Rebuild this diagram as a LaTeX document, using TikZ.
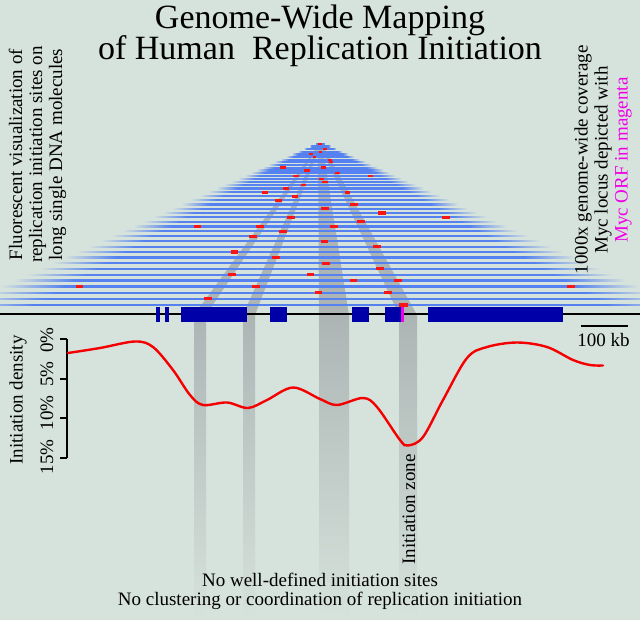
\documentclass[tikz,border=0pt]{standalone}
\usepackage{fontspec}
\setmainfont{Liberation Serif}
\definecolor{bgc}{RGB}{214,226,220}
\definecolor{mol}{RGB}{85,130,240}
\definecolor{bandgray}{RGB}{172,181,180}
\definecolor{blockblue}{RGB}{0,0,168}
\definecolor{mag}{RGB}{240,0,230}
\definecolor{markred}{RGB}{250,20,20}
\definecolor{curvered}{RGB}{245,0,0}
\pgfdeclarehorizontalshading{molfade}{100bp}{color(0bp)=(bgc); color(25bp)=(bgc); color(30bp)=(mol); color(70bp)=(mol); color(75bp)=(bgc); color(100bp)=(bgc)}
\tikzset{
  lbl/.style={font=\fontsize{19}{20}\selectfont, inner sep=0pt},
  ttl/.style={font=\fontsize{34}{27}\selectfont, inner sep=0pt, anchor=base},
  band/.style={fill=bandgray},
  lowband/.style={top color=bandgray, bottom color=bgc},
  blockstyle/.style={fill=blockblue},
  axisline/.style={line width=2pt, black},
}
\begin{document}
\begin{tikzpicture}[x=1pt, y=-1pt]
\useasboundingbox (0,0) rectangle (640,620);
\fill[bgc] (0,0) rectangle (640,620);
\begin{scope}
\clip (0,0) rectangle (640,620);
% grey bands above the axis
\fill[band] (319,144) -- (321,144) -- (206,315) -- (194,315) -- cycle;
\fill[band] (319,144) -- (321,144) -- (255,315) -- (243,315) -- cycle;
\fill[band] (318,144) -- (322,144) -- (349,315) -- (319,315) -- cycle;
\fill[band] (319,144) -- (322,144) -- (417,315) -- (399,315) -- cycle;
% grey bands below the axis
\shade[lowband] (194,315) rectangle (206,620);
\shade[lowband] (243,315) rectangle (255,620);
\shade[lowband] (319,315) rectangle (349,620);
\shade[lowband] (399,315) rectangle (417,620);
% DNA molecules
\foreach \yy in {143.9,146.5,149.1,151.8,154.5,157.1,159.7,162.4,165.1,167.8,170.5,173.2,175.9,178.9,181.9,185.2,188.6,192.3,196.3,200.4,204.5,208.7,213.0,217.3,221.8,226.5,231.4,236.3,241.4,246.7,252.1,257.6,263.2,268.9,274.7,280.6,286.6,292.7,298.8,305.0}{
  \pgfmathsetmacro\hw{2.2*(\yy-143)+3}
  \shade[shading=molfade] ({320-\hw},{\yy-0.6}) rectangle ({320+\hw},{\yy+0.6});
}
% initiation sites
\foreach \mx/\my in {320/143.9,325/149.1,320.3/151.8,310.7/154.5,314.6/157.1,329.8/159.7,331/162.4}{
  \fill[markred] ({\mx-1.8},{\my-1}) rectangle ({\mx+1.8},{\my+1});
}
\foreach \mx/\my in {282.7/167.8,323.5/167.8,307.2/170.5,337.5/173.2,295.7/175.9,370.3/175.9,321.6/178.9,325.2/181.9,303.6/185.2,286/188.6,264.7/192.3,347.5/192.3,295/196.3}{
  \fill[markred] ({\mx-2.8},{\my-1.3}) rectangle ({\mx+2.8},{\my+1.3});
}
\foreach \mx/\my in {278.3/200.4,354/204.5,325.2/208.7,382/213.0,291/217.3,445.7/217.3,360.7/221.8,197.3/226.5,260/226.5,334/226.5,282.7/231.4,252.7/236.3,324.3/241.4,377/246.7,234.3/252.1,276/257.6,326.2/263.2,379.7/268.9,231.7/274.7,310.5/274.7,353.3/280.6,397.7/280.6,79.3/286.6,256/286.6,571/286.6,318.5/292.7,387.7/292.7,207.7/298.8}{
  \fill[markred] ({\mx-3.8},{\my-1.6}) rectangle ({\mx+3.8},{\my+1.6});
}
\fill[markred] (399.3,303.4) rectangle (408.1,306.6);
\end{scope}
% chromosome axis and genes
\draw[axisline] (0,314.5) -- (640,314.5);
\fill[blockstyle] (155.8,307.3) rectangle (160.3,321.7);
\fill[blockstyle] (164.7,307.3) rectangle (169.3,321.7);
\fill[blockstyle] (181,307.3) rectangle (247,321.7);
\fill[blockstyle] (270,307.3) rectangle (287.3,321.7);
\fill[blockstyle] (352,307.3) rectangle (369,321.7);
\fill[blockstyle] (385.3,307.3) rectangle (400.7,321.7);
\fill[mag] (400.7,307.3) rectangle (403.8,321.7);
\fill[blockstyle] (427.7,307.3) rectangle (563.3,321.7);
% scale bar
\coordinate (sb1) at (581,326);
\coordinate (sb2) at (627.7,326);
\draw[axisline] (sb1) -- (sb2);
\node[lbl, anchor=base] (kb) at (603.5,347) {100 kb};
% density axis
\coordinate (ax0) at (67,339.3);
\coordinate (ax1) at (67,379.3);
\coordinate (ax2) at (67,418.3);
\coordinate (ax3) at (67,458.3);
\draw[axisline] (ax0) -- (ax3);
\foreach \c in {ax0,ax1,ax2,ax3}{\draw[axisline] (\c) -- ++(-7.5,0);}
\node[lbl, rotate=90] (t0) at (47,340) {0\%};
\node[lbl, rotate=90] (t5) at (47,374) {5\%};
\node[lbl, rotate=90] (t10) at (47,413) {10\%};
\node[lbl, rotate=90] (t15) at (47,457) {15\%};
\node[lbl, rotate=90] (dens) at (18,400) {Initiation density};
% density curve
\draw[curvered, line width=2.4pt, line cap=round] plot[smooth, tension=0.55] coordinates {
(68,353) (100,348) (135,341.5) (153,347) (173,370) (190,395) (203,405) (227,402.5) (248,408) (267,400) (293,387.5) (320,399) (337,405) (363,398) (377,407) (400,440) (408,445.5) (423,437) (443,400) (467,358) (487,347) (517,342.5) (547,347) (573,360) (590,365) (603,365.5)};
% texts
\node[ttl] (title1) at (320,28.2) {Genome-Wide Mapping};
\node[ttl] (title2) at (320,59.3) {of Human\ \ Replication Initiation};
\node[lbl, rotate=90, align=center] (left) at (37.5,154.5) {Fluorescent visualization of\\replication initiation sites on\\long single DNA molecules};
\node[lbl, rotate=90, align=center] (right) at (603,160) {1000x genome-wide coverage\\Myc locus depicted with\\\textcolor{mag}{Myc ORF in magenta}};
\node[lbl, rotate=90] (zone) at (409,509.5) {Initiation zone};
\node[lbl, anchor=base] (bot1) at (320,586) {No well-defined initiation sites};
\node[lbl, anchor=base] (bot2) at (320,605) {No clustering or coordination of replication initiation};
\end{tikzpicture}
\end{document}
